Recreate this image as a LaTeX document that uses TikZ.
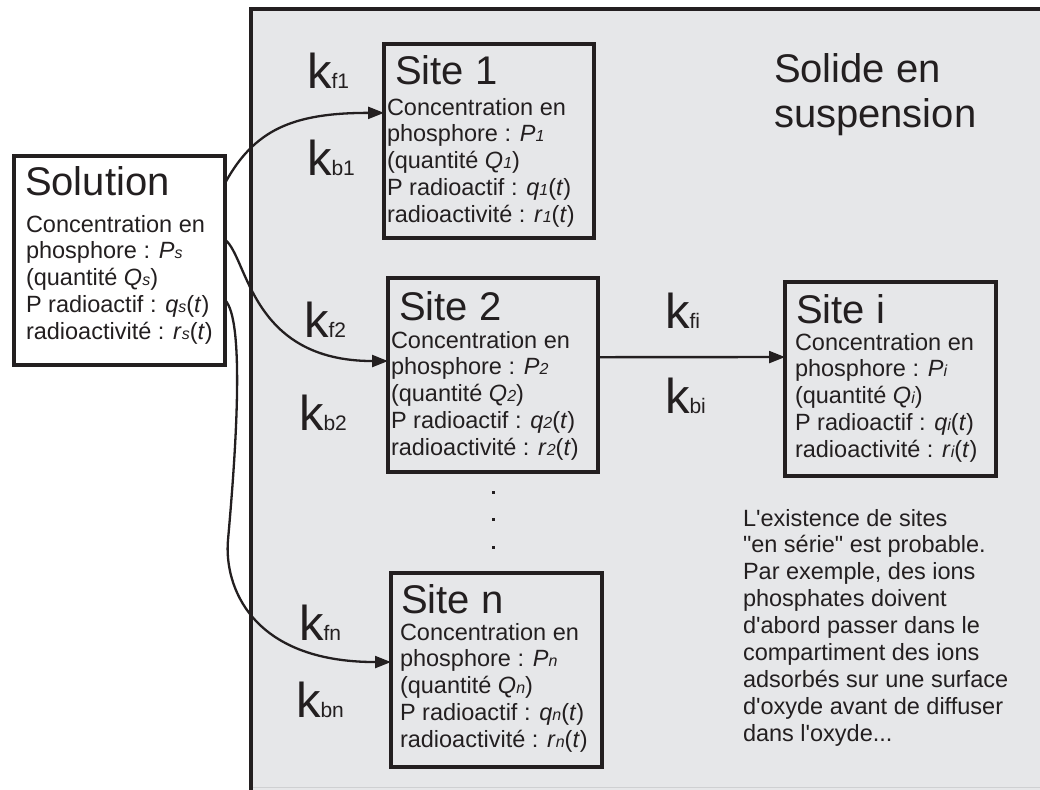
\documentclass[tikz,border=0pt]{standalone}
\usepackage{fontspec}
\setmainfont{Liberation Sans}[Ligatures=TeXOff]
\usetikzlibrary{arrows.meta,calc}
\definecolor{ink}{HTML}{231F20}
\definecolor{panelgray}{HTML}{E6E7E9}
\definecolor{paneledge}{HTML}{CFD0D2}

\newcommand\sizedtext[2]{{\fontsize{#1}{#1}\selectfont #2}}
\newcommand\klab[1]{\sizedtext{49}{k}\sizedtext{21}{#1}}
\newcommand\subi[1]{{\fontsize{16}{16}\selectfont\itshape #1}}
\newcommand\bodylines[1]{\vtop{\fontsize{23.5}{26.8}\selectfont #1}}
\newcommand\sitebody[1]{\bodylines{%
  \hbox{Concentration en}%
  \hbox{phosphore : \textit{P}\subi{#1}}%
  \hbox{(quantité \textit{Q}\subi{#1})}%
  \hbox{P radioactif : \textit{q}\subi{#1}(\textit{t})}%
  \hbox{radioactivité : \textit{r}\subi{#1}(\textit{t})}}}

\tikzset{
  box/.style={draw=ink, line width=3.6pt, inner sep=0pt, outer sep=0pt, anchor=north west},
  txt/.style={inner sep=0pt, outer sep=0pt, anchor=base west, text=ink},
  title/.style={txt, font=\fontsize{40}{44}\selectfont},
  flow/.style={draw=ink, line width=2.3pt, -{Triangle[length=16pt,width=12pt]}},
}

\begin{document}
\begin{tikzpicture}[x=1pt, y=-1pt]
\useasboundingbox (0,0) rectangle (1040,789);
\clip (0,0) rectangle (1040,789);
\fill[white] (0,0) rectangle (1040,789);

% panel "solide en suspension"
\fill[panelgray] (251,10) rectangle (1050,800);
\draw[paneledge, line width=1.5pt] (253,787.5) -- (1050,787.5);
\draw[ink, line width=4pt] (251,800) -- (251,9.5) -- (1050,9.5);

% boxes
\node[box, fill=white, minimum width=211pt, minimum height=209pt] (sol) at (14,156) {};
\node[box, minimum width=210pt, minimum height=194pt] (s1) at (384,44) {};
\node[box, minimum width=210pt, minimum height=194pt] (s2) at (388,278) {};
\node[box, minimum width=211pt, minimum height=194pt] (si) at (785,282) {};
\node[box, minimum width=211pt, minimum height=194pt] (sn) at (391,573) {};

% texts in boxes
\node[title] (solT) at (25,195) {Solution};
\node[txt] (solB) at (26,232) {\bodylines{%
  \hbox{Concentration en}%
  \hbox{phosphore : \textit{P}\subi{s}}%
  \hbox{(quantité \textit{Q}\subi{s})}%
  \hbox{P radioactif : \textit{q}\subi{s}(\textit{t})}%
  \hbox{radioactivité : \textit{r}\subi{s}(\textit{t})}}};

\node[title] (s1T) at (395,85) {Site 1};
\node[txt] (s1B) at (387,115) {\sitebody{1}};
\node[title] (s2T) at (399,320) {Site 2};
\node[txt] (s2B) at (391,348) {\sitebody{2}};
\node[title] (siT) at (796,323) {Site i};
\node[txt] (siB) at (795,350) {\sitebody{i}};
\node[title] (snT) at (401,613) {Site n};
\node[txt] (snB) at (400,640) {\sitebody{n}};

% rate labels
\node[txt] (kf1) at (307,89) {\klab{f1}};
\node[txt] (kb1) at (307,175) {\klab{b1}};
\node[txt] (kf2) at (304,337) {\klab{f2}};
\node[txt] (kb2) at (299,430) {\klab{b2}};
\node[txt] (kfi) at (665,328) {\klab{fi}};
\node[txt] (kbi) at (665,413) {\klab{bi}};
\node[txt] (kfn) at (299,640) {\klab{fn}};
\node[txt] (kbn) at (296,717) {\klab{bn}};

% panel title
\node[txt] (solide) at (774,83) {\vtop{\fontsize{40}{44}\selectfont
  \hbox{Solide en}\hbox{suspension}}};

% note
\node[txt] (note) at (743,526) {\vtop{\fontsize{23.5}{26.9}\selectfont
  \hbox{L'existence de sites}%
  \hbox{"en série" est probable.}%
  \hbox{Par exemple, des ions}%
  \hbox{phosphates doivent}%
  \hbox{d'abord passer dans le}%
  \hbox{compartiment des ions}%
  \hbox{adsorbés sur une surface}%
  \hbox{d'oxyde avant de diffuser}%
  \hbox{dans l'oxyde...}}};

% dots
\fill[ink] (491.5,490.5) rectangle +(3,3);
\fill[ink] (491.5,517.5) rectangle +(3,3);
\fill[ink] (491.5,545.5) rectangle +(3,3);

% connectors
\draw[flow] ($(sol.north east)!0.13!(sol.south east)$)
  .. controls +(29,-53) and +(-92,0) .. ($(s1.north west)!0.355!(s1.south west)$);
\draw[flow] ($(sol.north east)!0.40!(sol.south east)$)
  .. controls +(23,18) and +(-138,0) .. ($(s2.north west)!0.428!(s2.south west)$);
\coordinate (bend) at (228,540);
\draw[flow] ($(sol.north east)!0.689!(sol.south east)$)
  .. controls +(20,20) and +(8,-90) .. (bend)
  .. controls +(-4,45) and +(-141,0) .. ($(sn.north west)!0.459!(sn.south west)$);
\draw[flow] ($(s2.north east)!0.408!(s2.south east)$) -- ($(si.north west)!0.387!(si.south west)$);
\end{tikzpicture}
\end{document}
